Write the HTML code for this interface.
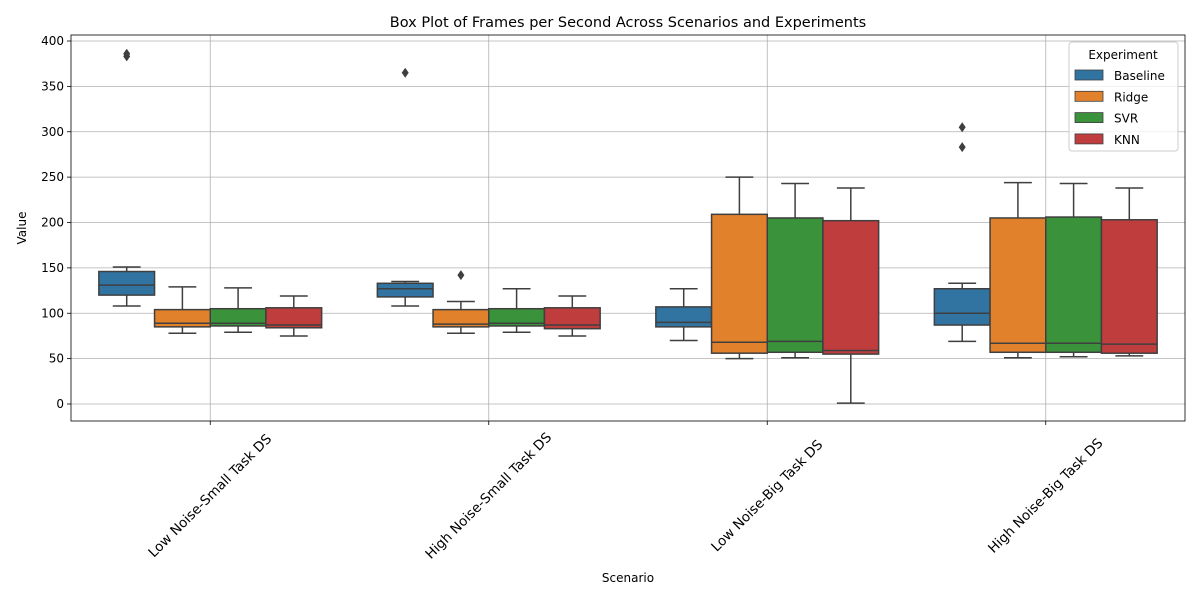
<!DOCTYPE html>
<html><head><meta charset="utf-8"><style>body{margin:0;background:#fff}svg{font-family:"DejaVu Sans","Liberation Sans",sans-serif}</style></head>
<body>
<svg id="chart" width="1200" height="600" xmlns="http://www.w3.org/2000/svg"></svg>
<script>
const categories=["Low Noise-Small Task DS","High Noise-Small Task DS","Low Noise-Big Task DS","High Noise-Big Task DS"];
const experiments=["Baseline","Ridge","SVR","KNN"];
const colors=["#3274a1","#e1812c","#3a923a","#c03d3e"];
// [whiskerLow, q1, median, q3, whiskerHigh]
const baseline=[[108,120,131,146,151],[108,118,127,133,135],[70,85,90,107,127],[69,87,100,127,133]];
const ridge=[[78,85,89,104,129],[78,85,88,104,113],[50,56,68,209,250],[51,57,67,205,244]];
const svr=[[79,86,89,105,128],[79,86,89,105,127],[51,57,69,205,243],[52,57,67,206,243]];
const knn=[[75,84,87,106,119],[75,83,87,106,119],[1,55,59,202,238],[53,56,66,203,238]];
const outliers=[[[383,386],[],[],[]],[[365],[142],[],[]],[[],[],[],[]],[[283,305],[],[],[]]];
const yTicks=[0,50,100,150,200,250,300,350,400];
const series=[baseline,ridge,svr,knn];
const svg=document.getElementById('chart');const NS="http://www.w3.org/2000/svg";
const L=71,R=1185,T=35,B=421;
const y=v=>404-v*(363/400);
const catW=(R-L)/4;const cx=i=>L+catW*(i+0.5);
const boxW=catW*0.8/4;
function mk(tag,attrs,name,parent){const e=document.createElementNS(NS,tag);for(const k in attrs)e.setAttribute(k,attrs[k]);


(parent||svg).appendChild(e);return e;}
yTicks.forEach(t=>{mk('line',{x1:L,x2:R,y1:y(t),y2:y(t),stroke:'#b0b0b0','stroke-width':0.8},'y-grid-line');
mk('line',{x1:L-4,x2:L,y1:y(t),y2:y(t),stroke:'#000','stroke-width':0.8},'y-tick');
const tx=mk('text',{x:L-7,y:y(t)+4,'text-anchor':'end','font-size':12},'y-tick-label');tx.textContent=t;});
categories.forEach((c,i)=>{mk('line',{x1:cx(i),x2:cx(i),y1:T,y2:B,stroke:'#b0b0b0','stroke-width':0.8},'x-grid-line');
mk('line',{x1:cx(i),x2:cx(i),y1:B,y2:B+4,stroke:'#000','stroke-width':0.8},'x-tick');
const py=B+75;
const tx=mk('text',{x:cx(i),y:py+4,'text-anchor':'middle','font-size':13.5,transform:`rotate(-45 ${cx(i)} ${py})`},'x-tick-label');tx.textContent=c;});
categories.forEach((c,i)=>{series.forEach((s,j)=>{const d=s[i];const bc=cx(i)+(j-1.5)*boxW;const g=mk('g',{},'box-'+experiments[j].toLowerCase()+'-'+i);
const ln='#3f3f3f';
mk('line',{x1:bc,x2:bc,y1:y(d[0]),y2:y(d[1]),stroke:ln,'stroke-width':1.5},'whisker-low',g);
mk('line',{x1:bc,x2:bc,y1:y(d[3]),y2:y(d[4]),stroke:ln,'stroke-width':1.5},'whisker-high',g);
mk('line',{x1:bc-boxW/4,x2:bc+boxW/4,y1:y(d[0]),y2:y(d[0]),stroke:ln,'stroke-width':1.5},'cap-low',g);
mk('line',{x1:bc-boxW/4,x2:bc+boxW/4,y1:y(d[4]),y2:y(d[4]),stroke:ln,'stroke-width':1.5},'cap-high',g);
mk('rect',{x:bc-boxW/2,y:y(d[3]),width:boxW,height:y(d[1])-y(d[3]),fill:colors[j],stroke:ln,'stroke-width':1.5},'box-body',g);
mk('line',{x1:bc-boxW/2,x2:bc+boxW/2,y1:y(d[2]),y2:y(d[2]),stroke:ln,'stroke-width':1.5},'median-line',g);
outliers[i][j].forEach(o=>{mk('path',{d:`M${bc} ${y(o)-5}L${bc+3.5} ${y(o)}L${bc} ${y(o)+5}L${bc-3.5} ${y(o)}Z`,fill:'#3f3f3f'},'outlier',g);});});});
mk('rect',{x:L,y:T,width:R-L,height:B-T,fill:'none',stroke:'#000','stroke-width':0.8},'plot-frame');
let t=mk('text',{x:628,y:27,'text-anchor':'middle','font-size':14.5},'chart-title');t.textContent="Box Plot of Frames per Second Across Scenarios and Experiments";
t=mk('text',{x:628,y:582,'text-anchor':'middle','font-size':12},'x-axis-title');t.textContent="Scenario";
t=mk('text',{x:26,y:228,'text-anchor':'middle','font-size':12,transform:'rotate(-90 26 228)'},'y-axis-title');t.textContent="Value";
const lg=mk('g',{},'legend');
mk('rect',{x:1069,y:42,width:109,height:109,fill:'#fff','fill-opacity':0.8,stroke:'#ccc',rx:3},'legend-frame',lg);
t=mk('text',{x:1123,y:59,'text-anchor':'middle','font-size':12},'legend-title',lg);t.textContent="Experiment";
experiments.forEach((e,j)=>{const yy=70+j*21.3;
mk('rect',{x:1075,y:yy,width:28,height:10,fill:colors[j],stroke:'#3f3f3f','stroke-width':0.8},'legend-swatch',lg);
const tx=mk('text',{x:1114,y:yy+10,'font-size':12},'legend-entry',lg);tx.textContent=e;});
</script>
</body></html>
